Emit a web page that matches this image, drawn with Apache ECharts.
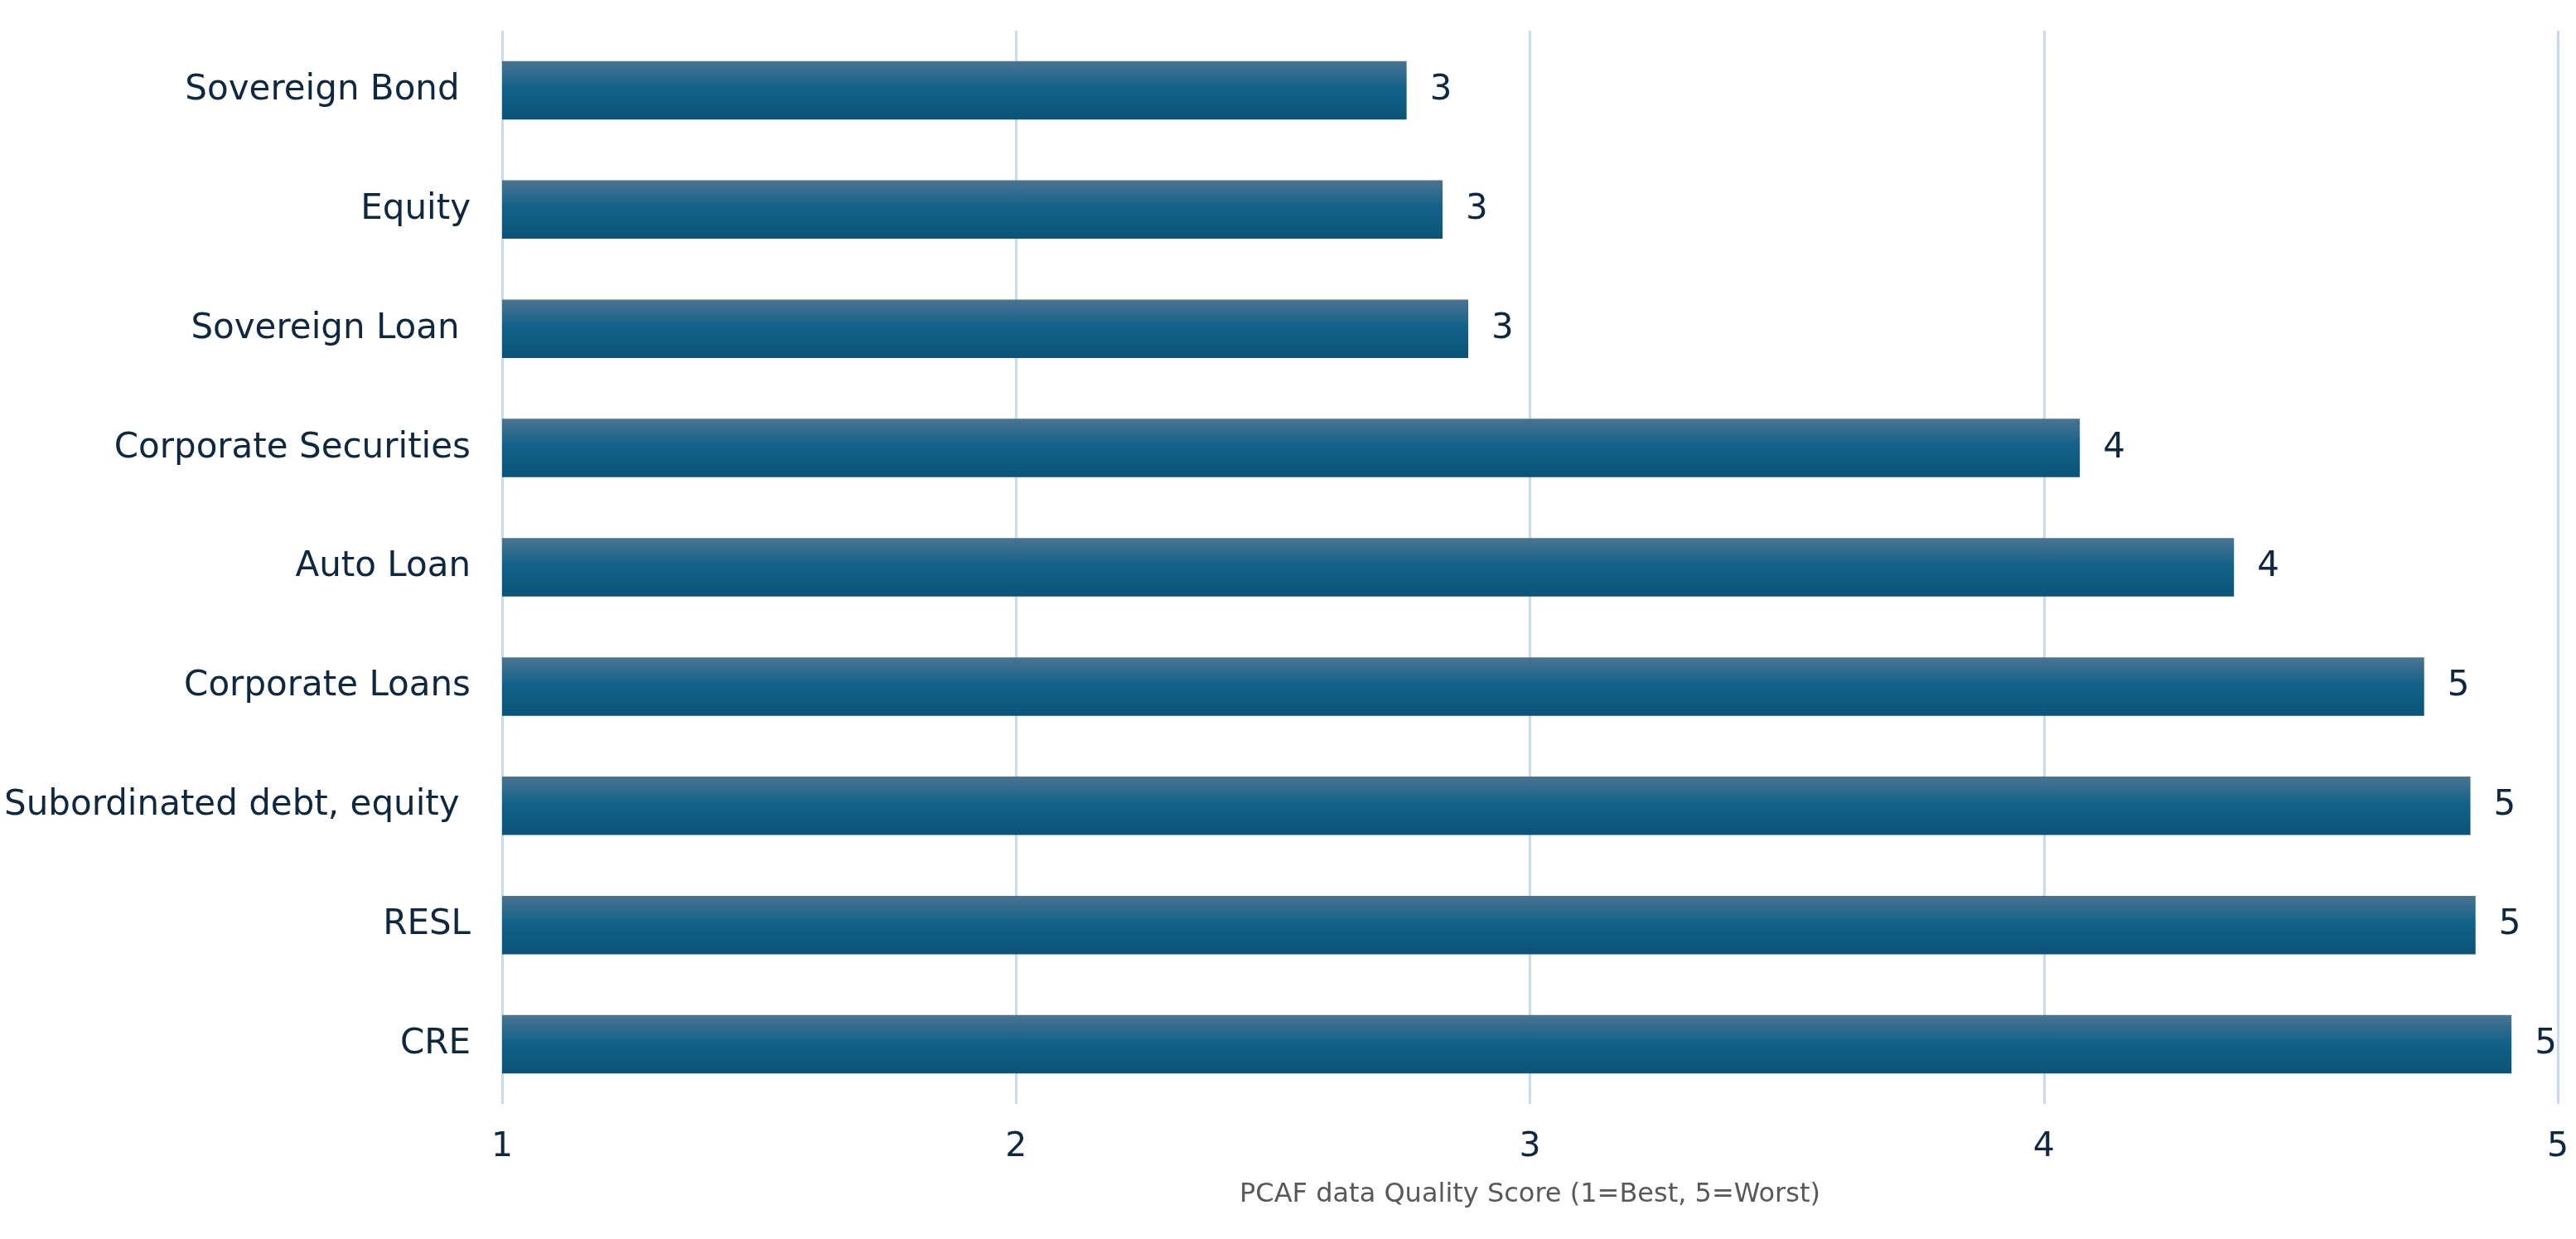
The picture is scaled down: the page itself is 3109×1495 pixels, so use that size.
<!DOCTYPE html>
<html>
<head>
<meta charset="utf-8">
<script src="https://cdn.jsdelivr.net/npm/echarts@6/dist/echarts.min.js"></script>
<style>
html,body{margin:0;padding:0;background:#fff;}
#chart{width:3109px;height:1495px;}
</style>
</head>
<body>
<div id="chart"></div>
<script>
const categories = ["Sovereign Bond ", "Equity", "Sovereign Loan ", "Corporate Securities", "Auto Loan", "Corporate Loans", "Subordinated debt, equity ", "RESL", "CRE"];
const scores = [2.76, 2.83, 2.88, 4.07, 4.37, 4.74, 4.83, 4.84, 4.91];
const xTicks = [1, 2, 3, 4, 5];
const axisTitle = "PCAF data Quality Score (1=Best, 5=Worst)";

const chart = echarts.init(document.getElementById('chart'));
chart.setOption({
  animation: false,
  backgroundColor: '#ffffff',
  grid: { left: 606, right: 22, top: 37, bottom: 163, containLabel: false },
  xAxis: {
    type: 'value',
    min: xTicks[0],
    max: xTicks[xTicks.length - 1],
    interval: 1,
    axisLine: { show: false },
    axisTick: { show: false },
    splitLine: { show: true, lineStyle: { color: '#c6dbf0', width: 3 } },
    axisLabel: { color: '#0e2841', fontSize: 41, fontFamily: 'DejaVu Sans', margin: 32 },
    name: axisTitle,
    nameLocation: 'middle',
    nameGap: 110,
    nameMoveOverlap: false,
    nameTextStyle: { color: '#595959', fontSize: 32, fontFamily: 'DejaVu Sans', verticalAlign: 'middle' }
  },
  yAxis: {
    type: 'category',
    data: categories,
    inverse: true,
    axisLine: { show: false },
    axisTick: { show: false },
    splitLine: { show: false },
    axisLabel: { color: '#0e2841', fontSize: 42, fontFamily: 'DejaVu Sans', margin: 38 }
  },
  series: [{
    type: 'bar',
    data: scores,
    barWidth: '49%',
    itemStyle: {
      color: new echarts.graphic.LinearGradient(0, 0, 0, 1, [
        { offset: 0, color: '#4b7491' },
        { offset: 0.45, color: '#136289' },
        { offset: 1, color: '#0a5377' }
      ])
    },
    label: {
      show: true,
      position: 'right',
      distance: 28,
      color: '#0e2841',
      fontSize: 42,
      fontFamily: 'DejaVu Sans',
      formatter: p => Math.round(p.value).toString()
    }
  }]
});
</script>
</body>
</html>
